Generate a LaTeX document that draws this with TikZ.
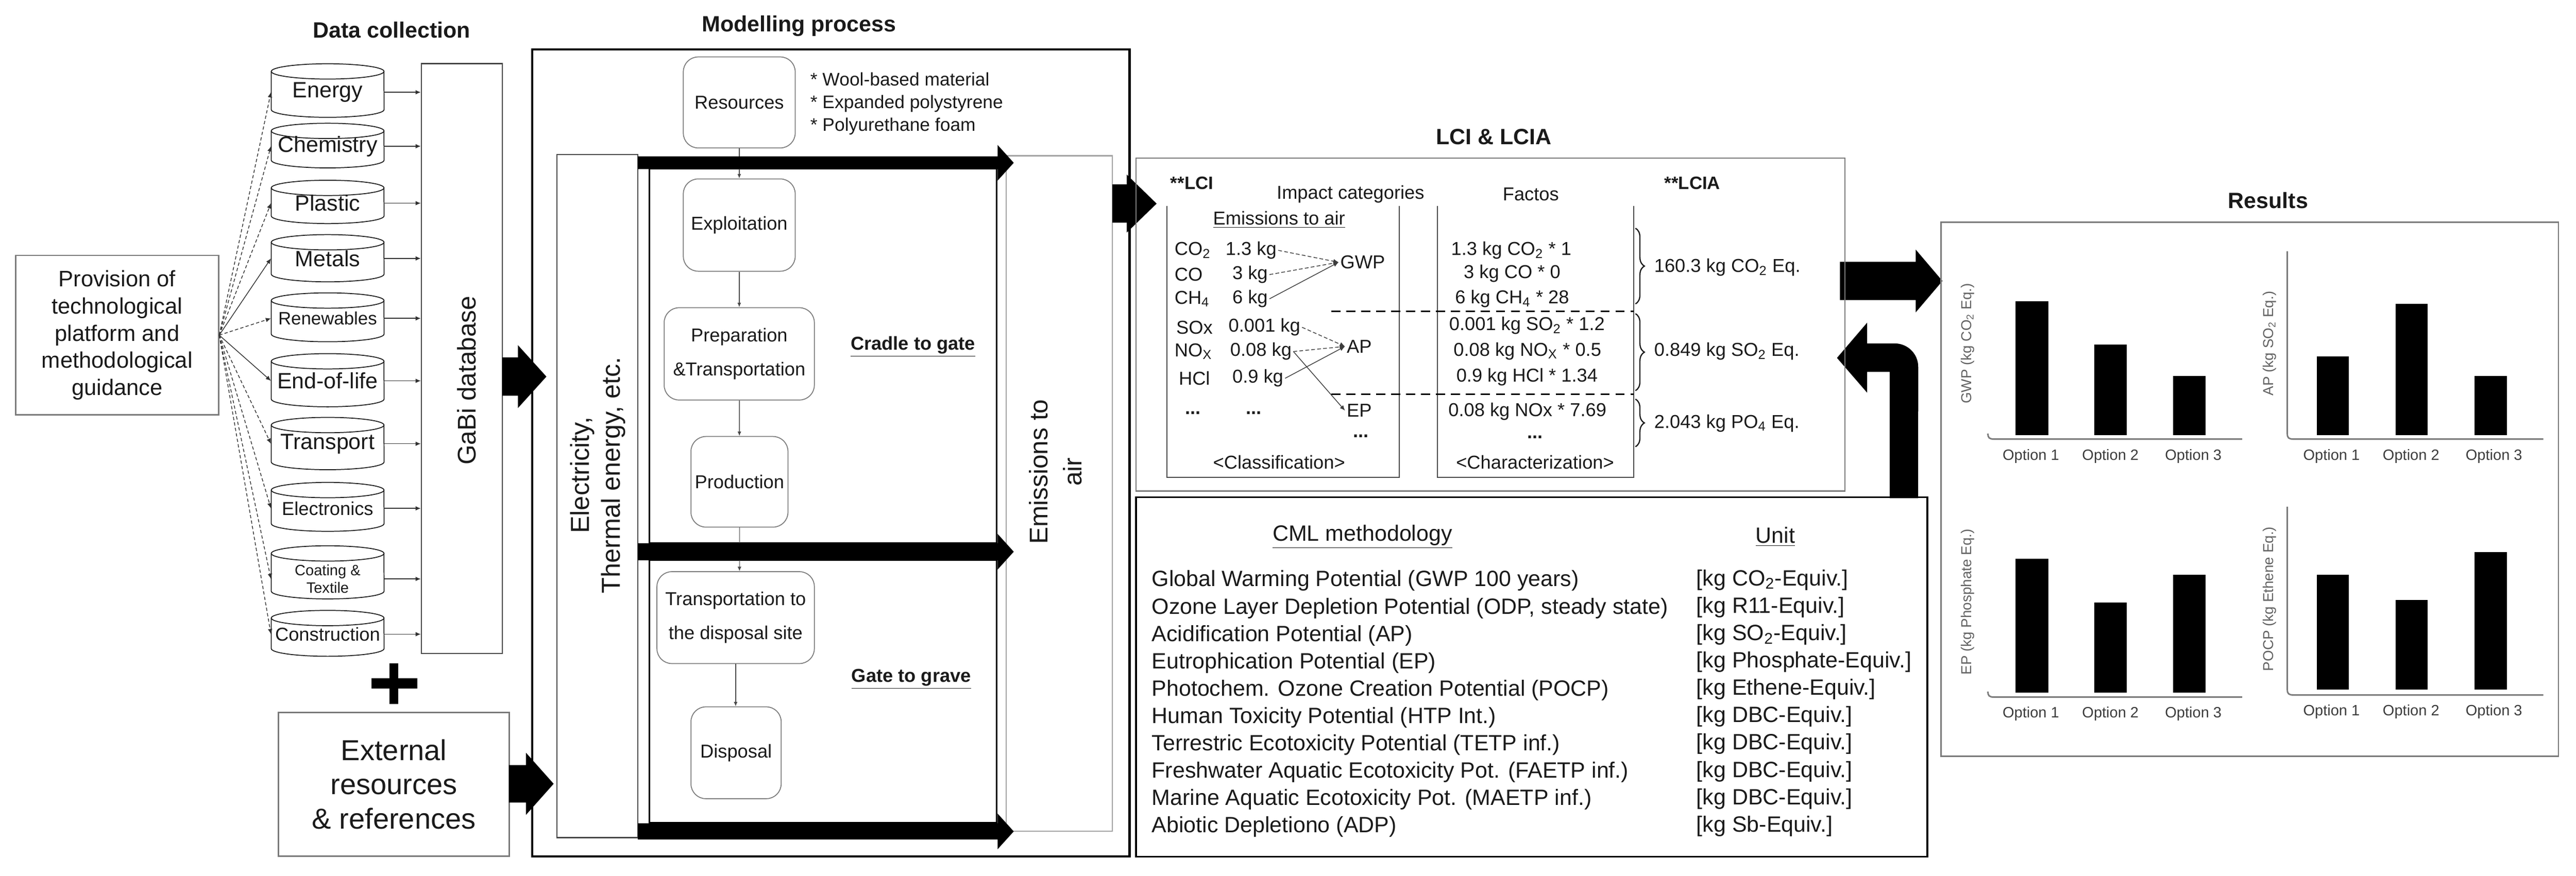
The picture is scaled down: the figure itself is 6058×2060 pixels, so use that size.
\documentclass[tikz,border=0pt]{standalone}
\usepackage{fontspec}
\setmainfont{Liberation Sans}
\usetikzlibrary{arrows.meta,calc,decorations.pathreplacing}
\definecolor{txt}{HTML}{1A1A1A}
\definecolor{gl}{HTML}{7A7A7A}
\newcommand\fsz[2]{\fontsize{#1pt}{#2pt}\selectfont}
\newcommand\sub[1]{\textsubscript{#1}}
% cylinder outline: left x, top y, bottom y
\newcommand\cylshape[3]{%
  \draw[cylline] (#1,#2+18) -- (#1,#3-18) arc[start angle=180,end angle=360,x radius=1.325cm,y radius=0.18cm] -- (#1+265,#2+18);
  \draw[cylline] (#1+132.5,#2+18) ellipse[x radius=1.325cm,y radius=0.18cm];}
% block arrow: x start, x head, x tip, y centre, shaft half, head half
\newcommand\harrow[6]{%
  \fill[black] (#1,#4-#5) -- (#2,#4-#5) -- (#2,#4-#6) -- (#3,#4) -- (#2,#4+#6) -- (#2,#4+#5) -- (#1,#4+#5) -- cycle;}
\begin{document}
\begin{tikzpicture}[x=0.01cm,y=-0.01cm,
  every node/.style={text=txt},
  title/.style={font=\bfseries\fsz{14.8}{17}, inner sep=0},
  cyl/.style={minimum width=2.65cm, inner sep=0, align=center, font=\fsz{14.8}{17}},
  cylline/.style={draw=txt, line width=0.6pt},
  arr/.style={draw=txt!90, line width=0.5pt, -{Latex[length=3.5pt,width=3pt]}},
  dsh/.style={arr, dash pattern=on 2.2pt off 1.5pt},
  gbox/.style={draw=gl, line width=0.8pt, inner sep=0},
  kbox/.style={draw=black, line width=1.2pt, inner sep=0},
  pbox/.style={draw=gl, line width=0.6pt, rounded corners=0.35cm, align=center, font=\fsz{12.5}{22.5}, inner sep=0},
  parr/.style={draw=txt!80, line width=0.5pt, -{Latex[length=3pt,width=2.5pt]}},
  lt/.style={font=\fsz{12.5}{15}, inner sep=1pt},
  dots/.style={font=\bfseries\fsz{12.5}{15}, inner sep=0},
  carr/.style={draw=txt!85, line width=0.5pt, -{Latex[length=3.5pt,width=3pt]}},
  cdsh/.style={carr, dash pattern=on 2.5pt off 1.5pt},
  cml/.style={font=\fsz{14.8}{18.3}, align=left, inner sep=0},
  opt/.style={font=\fsz{10}{12}, text=txt!85},
  ylab/.style={font=\fsz{9.6}{11}, text=gl!80!black, rotate=90},
  axis/.style={draw=gl, line width=1pt},
  brc/.style={draw=txt, line width=0.8pt, decorate, decoration={brace, amplitude=6pt}},
]
\useasboundingbox (0,0) rectangle (6058,2060);

% ================= Data collection =================
\node[title] (tdc) at (921,70) {Data collection};

\node[draw=gl, line width=0.8pt, minimum width=4.77cm, minimum height=3.75cm, align=center,
      font=\fsz{15}{18.2}, inner sep=0] (prov) at (275.5,788.5)
      {Provision of\\technological\\platform and\\methodological\\guidance};

\cylshape{638}{150}{276}
\cylshape{638}{290}{395}
\cylshape{638}{424}{526}
\cylshape{638}{552}{663}
\cylshape{638}{689}{804}
\cylshape{638}{832}{957}
\cylshape{638}{982}{1105}
\cylshape{638}{1135}{1250}
\cylshape{638}{1284}{1409}
\cylshape{638}{1436}{1544}

\node[cyl] (energy) at (770.5,217) {Energy};
\node[cyl] (chem)   at (770.5,344) {Chemistry};
\node[cyl] (plast)  at (770.5,478) {Plastic};
\node[cyl] (metal)  at (770.5,608) {Metals};
\node[cyl, font=\fsz{12}{14}] (renew) at (770.5,749) {Renewables};
\node[cyl] (eol)    at (770.5,896) {End-of-life};
\node[cyl] (transp) at (770.5,1044) {Transport};
\node[cyl, font=\fsz{12.5}{14}] (electr) at (770.5,1196) {Electronics};
\node[cyl, font=\fsz{10}{11.7}] (coat) at (770.5,1362) {Coating \&\\Textile};
\node[cyl, font=\fsz{12.5}{14}] (constr) at (770.5,1492) {Construction};

\node[gbox, draw=txt!80, minimum width=1.9cm, minimum height=13.87cm] (gabi) at (1086,843.5) {};
\node[rotate=90, font=\fsz{17.1}{20}, inner sep=0] (gabit) at (1098,895) {GaBi database};

\draw[dsh] (prov.east) -- (energy.west);
\draw[dsh] (prov.east) -- (chem.west);
\draw[dsh] (prov.east) -- (plast.west);
\draw[arr] (prov.east) -- (metal.west);
\draw[dsh] (prov.east) -- (renew.west);
\draw[arr] (prov.east) -- (eol.west);
\draw[dsh] (prov.east) -- (transp.west);
\draw[dsh] (prov.east) -- (electr.west);
\draw[dsh] (prov.east) -- (coat.west);
\draw[dsh] (prov.east) -- (constr.west);

\foreach \c in {energy,chem,plast,metal,renew,eol,transp,electr,coat,constr}
  \draw[arr] (\c.east) -- (\c.east -| gabi.west);

% plus sign
\fill[black] (873,1596) rectangle (981,1620);
\fill[black] (916,1561) rectangle (937,1656);

\node[draw=gl, line width=1pt, minimum width=5.43cm, minimum height=3.38cm, align=center,
      font=\fsz{19.3}{23}, inner sep=0] (ext) at (926.5,1845)
      {External\\resources\\\& references};

% ================= Modelling process =================
\node[title] (tmod) at (1879,61) {Modelling process};
\node[kbox, line width=1.4pt, minimum width=14.04cm, minimum height=18.97cm] (model) at (1954,1065.5) {};

\node[gbox, draw=txt!80, minimum width=1.9cm, minimum height=16.06cm] (elec) at (1405,1167) {};
\node[rotate=90, align=center, font=\fsz{17.4}{20.5}, inner sep=0] (elect) at (1406,1118)
      {Electricity,\\Thermal energy, etc.};

\node[kbox, line width=1.1pt, minimum width=8.17cm, minimum height=8.8cm] (cradle) at (1935.5,837) {};
\node[kbox, line width=1.1pt, minimum width=8.17cm, minimum height=6.18cm] (gate) at (1935.5,1627) {};

\node[gbox, draw=gl!70, minimum width=2.5cm, minimum height=15.88cm] (emis) at (2491,1161) {};
\node[rotate=90, align=center, font=\fsz{17.1}{22.8}, inner sep=0] (emist) at (2482,1110)
      {Emissions to\\air};

\node[pbox, minimum width=2.63cm, minimum height=2.14cm] (res)   at (1738.5,241)   {Resources};
\node[pbox, minimum width=2.63cm, minimum height=2.17cm] (expl)  at (1738.5,529.5) {Exploitation};
\node[pbox, minimum width=3.53cm, minimum height=2.17cm] (prep)  at (1738.5,832.5) {Preparation\\\&Transportation};
\node[pbox, minimum width=2.28cm, minimum height=2.13cm] (prod)  at (1739,1133.5)  {Production};
\node[pbox, minimum width=3.70cm, minimum height=2.16cm] (trans) at (1730,1453)    {Transportation to\\the disposal site};
\node[pbox, minimum width=2.12cm, minimum height=2.16cm] (disp)  at (1731,1771)    {Disposal};

\draw[parr] (res) -- (expl);
\draw[parr] (expl) -- (prep);
\draw[parr] (prep) -- (prod);
\draw[parr] (prod.south) -- (prod.south |- trans.north);
\draw[parr] (trans.south) -- (trans.south |- disp.north);

\node[anchor=west, align=left, font=\fsz{12.2}{15.1}, inner sep=0] (matlist) at (1905,244)
      {* Wool-based material\\* Expanded polystyrene\\* Polyurethane foam};
\node[font=\bfseries\fsz{12.5}{15}, inner sep=0] (c2g) at (2147,816) {\underline{Cradle to gate}};
\node[font=\bfseries\fsz{12.5}{15}, inner sep=0] (g2g) at (2143,1598) {\underline{Gate to grave}};

% block arrows
\harrow{1181}{1218}{1285}{886}{45}{74}
\harrow{1197}{1237}{1302}{1844}{44}{73}
\harrow{1500}{2346}{2384}{383}{15}{42}
\harrow{1500}{2346}{2384}{1298}{20}{42}
\harrow{1500}{2346}{2384}{1956}{19}{42}
\harrow{2616}{2650}{2720}{479}{45}{68}
\harrow{4327}{4505}{4568}{661}{45}{74}
\fill[black] (4444,1172) -- (4444,875) -- (4391,875) -- (4391,924) -- (4320,842) -- (4391,759) -- (4391,808)
   -- (4456,808) arc[start angle=90, end angle=0, radius=0.55cm] -- (4511,1172) -- cycle;

% ================= LCI & LCIA =================
\node[title] (tlci) at (3513,322) {LCI \& LCIA};
\node[gbox, minimum width=16.66cm, minimum height=7.83cm] (lcibox) at (3505,763.5) {};
\node[font=\bfseries\fsz{12}{14}, anchor=west, inner sep=0] (lcil) at (2752,431) {**LCI};
\node[lt] (impcat) at (3176,457) {Impact categories};
\node[lt] (factos) at (3600,457) {Factos};
\node[font=\bfseries\fsz{12}{14}, inner sep=0] (lcial) at (3980,431) {**LCIA};

\draw[draw=txt!80, line width=0.6pt] (2744,485) -- (2744,1123) -- (3291,1123) -- (3291,485);
\draw[draw=txt!80, line width=0.6pt] (3380,485) -- (3380,1123) -- (3842,1123) -- (3842,485);

\node[lt] (emair) at (3008,517) {\underline{Emissions to air}};
\node[lt, anchor=west] (s1) at (2758,589) {CO\sub{2}};
\node[lt, anchor=west] (s2) at (2758,646) {CO};
\node[lt, anchor=west] (s3) at (2758,703) {CH\sub{4}};
\node[lt, anchor=west] (s4) at (2762,770) {SOx};
\node[lt, anchor=west] (s5) at (2758,827) {NO\sub{X}};
\node[lt, anchor=west] (s6) at (2768,890) {HCl};
\node[dots] (sd) at (2805,972) {...};

\node[lt, anchor=west] (v1) at (2878,589) {1.3 kg};
\node[lt, anchor=west] (v2) at (2894,646) {3 kg};
\node[lt, anchor=west] (v3) at (2894,703) {6 kg};
\node[lt, anchor=west] (v4) at (2885,770) {0.001 kg};
\node[lt, anchor=west] (v5) at (2889,827) {0.08 kg};
\node[lt, anchor=west] (v6) at (2894,890) {0.9 kg};
\node[dots] (vd) at (2948,972) {...};

\node[lt, anchor=west] (gwp) at (3148,617) {GWP};
\node[lt, anchor=west] (ap)  at (3163,815) {AP};
\node[lt, anchor=west] (ep)  at (3163,966) {EP};
\node[dots] (epd) at (3200,1026) {...};

\draw[cdsh] (v1.east) -- (gwp.west);
\draw[cdsh] (v2.east) -- (gwp.west);
\draw[carr] (v3.east) -- (gwp.west);
\draw[cdsh] (v4.east) -- (ap.west);
\draw[cdsh] (v5.east) -- (ap.west);
\draw[carr] (v6.east) -- (ap.west);
\draw[carr] (v5.east) -- (ep.west);

\node[lt] (classl) at (3008,1088) {<Classification>};

\draw[black, line width=1pt, dash pattern=on 6pt off 4pt] (3131,732) -- (3842,732);
\draw[black, line width=1pt, dash pattern=on 6pt off 4pt] (3131,927) -- (3842,927);

\node[lt] (f1) at (3554,589) {1.3 kg CO\sub{2} * 1};
\node[lt] (f2) at (3556,643) {3 kg CO * 0};
\node[lt] (f3) at (3556,703) {6 kg CH\sub{4} * 28};
\node[lt] (f4) at (3591,766) {0.001 kg SO\sub{2} * 1.2};
\node[lt] (f5) at (3592,826) {0.08 kg NO\sub{X} * 0.5};
\node[lt] (f6) at (3591,887) {0.9 kg HCl * 1.34};
\node[lt] (f7) at (3592,968) {0.08 kg NOx * 7.69};
\node[dots] (fd) at (3610,1028) {...};
\node[lt] (charl) at (3610,1088) {<Characterization>};

\draw[brc] (3846,537) -- (3846,715);
\draw[brc] (3846,738) -- (3846,919);
\draw[brc] (3846,939) -- (3846,1051);

\node[lt, anchor=west] (r1) at (3886,629) {160.3 kg CO\sub{2} Eq.};
\node[lt, anchor=west] (r2) at (3886,827) {0.849 kg SO\sub{2} Eq.};
\node[lt, anchor=west] (r3) at (3886,996) {2.043 kg PO\sub{4} Eq.};

% ================= CML table =================
\node[kbox, minimum width=18.6cm, minimum height=8.45cm] (cmlbox) at (3602,1592.5) {};
\node[font=\fsz{14.8}{17}, inner sep=0] (cmlh) at (3204,1263) {\underline{CML methodology}};
\node[font=\fsz{14.8}{17}, inner sep=0] (unith) at (4175,1263) {\underline{Unit}};
\node[cml, anchor=west] (cmlrows) at (2708,1656) {Global Warming Potential (GWP 100 years)\\
Ozone Layer Depletion Potential (ODP, steady state)\\
Acidification Potential (AP)\\
Eutrophication Potential (EP)\\
Photochem. Ozone Creation Potential (POCP)\\
Human Toxicity Potential (HTP Int.)\\
Terrestric Ecotoxicity Potential (TETP inf.)\\
Freshwater Aquatic Ecotoxicity Pot. (FAETP inf.)\\
Marine Aquatic Ecotoxicity Pot. (MAETP inf.)\\
Abiotic Depletiono (ADP)};
\node[cml, anchor=west] (units) at (3989,1654) {{[}kg CO\sub{2}-Equiv.]\\
{[}kg R11-Equiv.]\\
{[}kg SO\sub{2}-Equiv.]\\
{[}kg Phosphate-Equiv.]\\
{[}kg Ethene-Equiv.]\\
{[}kg DBC-Equiv.]\\
{[}kg DBC-Equiv.]\\
{[}kg DBC-Equiv.]\\
{[}kg DBC-Equiv.]\\
{[}kg Sb-Equiv.]};

% ================= Results =================
\node[title] (tres) at (5334,471) {Results};
\node[gbox, minimum width=14.51cm, minimum height=12.56cm] (resbox) at (5290.5,1151) {};

% chart 1 GWP
\draw[axis] (4675,1020) .. controls (4675,1030) and (4678,1033) .. (4690,1033) -- (5273,1033);
\fill[black] (4740,709) rectangle (4817,1024);
\fill[black] (4925,810) rectangle (5002,1024);
\fill[black] (5110,885) rectangle (5187,1024);
\node[opt] (o11) at (4776,1074) {Option 1};
\node[opt] (o12) at (4963,1074) {Option 2};
\node[opt] (o13) at (5158,1074) {Option 3};
\node[ylab] (y1) at (4627,808) {GWP (kg CO\sub{2} Eq.)};

% chart 2 AP
\draw[axis] (5379,591) -- (5379,1020) .. controls (5379,1030) and (5382,1033) .. (5394,1033) -- (5981,1033);
\fill[black] (5449,838) rectangle (5524,1024);
\fill[black] (5634,715) rectangle (5709,1024);
\fill[black] (5819,885) rectangle (5896,1024);
\node[opt] (o21) at (5483,1074) {Option 1};
\node[opt] (o22) at (5670,1074) {Option 2};
\node[opt] (o23) at (5865,1074) {Option 3};
\node[ylab] (y2) at (5337,808) {AP (kg SO\sub{2} Eq.)};

% chart 3 EP
\draw[axis] (4675,1627) .. controls (4675,1637) and (4678,1640) .. (4690,1640) -- (5273,1640);
\fill[black] (4740,1314) rectangle (4817,1630);
\fill[black] (4925,1417) rectangle (5002,1630);
\fill[black] (5110,1352) rectangle (5187,1630);
\node[opt] (o31) at (4776,1679) {Option 1};
\node[opt] (o32) at (4963,1679) {Option 2};
\node[opt] (o33) at (5158,1679) {Option 3};
\node[ylab] (y3) at (4627,1416) {EP (kg Phosphate Eq.)};

% chart 4 POCP
\draw[axis] (5379,1192) -- (5379,1622) .. controls (5379,1632) and (5382,1635) .. (5394,1635) -- (5981,1635);
\fill[black] (5449,1352) rectangle (5524,1622);
\fill[black] (5634,1411) rectangle (5709,1622);
\fill[black] (5819,1299) rectangle (5896,1622);
\node[opt] (o41) at (5483,1675) {Option 1};
\node[opt] (o42) at (5670,1675) {Option 2};
\node[opt] (o43) at (5865,1675) {Option 3};
\node[ylab] (y4) at (5337,1409) {POCP (kg Ethene Eq.)};
\end{tikzpicture}
\end{document}
